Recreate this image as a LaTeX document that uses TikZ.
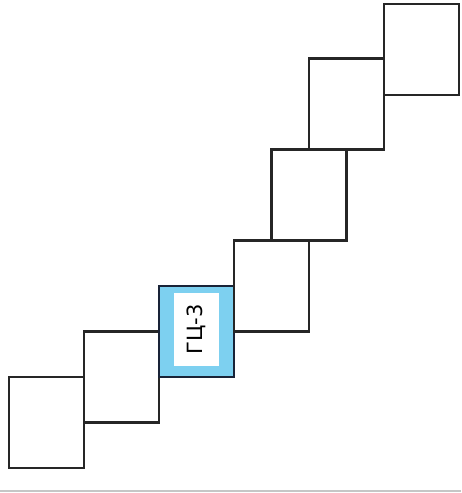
\documentclass[tikz,border=0pt]{standalone}
\usepackage{fontspec}
\newfontfamily\cellfont{DejaVu Sans}
\usetikzlibrary{positioning}
\definecolor{gcblue}{RGB}{125,208,240}
\definecolor{gcedge}{RGB}{25,35,55}

\begin{document}
\begin{tikzpicture}[
    x=1pt, y=-1pt,
    cell/.style={rectangle, draw=black!85, line width=2.2pt, minimum width=75pt, minimum height=91pt, inner sep=0pt, outer sep=0pt},
    gc/.style={cell, fill=gcblue, draw=gcedge, line width=2.8pt},
    tag/.style={rectangle, fill=white, rotate=90, minimum width=73pt, minimum height=45pt, inner sep=0pt, font=\cellfont\fontsize{21}{21}\selectfont}
]
    \useasboundingbox (0,0) rectangle (461,493);

    % Staircase
    \node[cell, anchor=south west] (g1) at (9,468) {};
    \node[cell, anchor=south west] (g2) at (g1.east) {};
    \node[gc, anchor=south west] (g3) at (g2.east) {};
    \node[cell, anchor=south west] (g4) at (g3.east) {};
    \node[cell, anchor=south west] (g5) at (g4.north) {};
    \node[cell, anchor=south west] (g6) at (g5.north) {};
    \node[cell, anchor=south west] (g7) at ([yshift=9pt]g6.east) {};

    % Label
    \node[tag] (t3) at ([yshift=2pt]g3.center) {ГЦ-3};

    % Bottom rule
    \coordinate (rl) at (0,491);
    \coordinate (rr) at (461,491);
    \draw[gray!45, line width=1.5pt] (rl) -- (rr);
\end{tikzpicture}
\end{document}
